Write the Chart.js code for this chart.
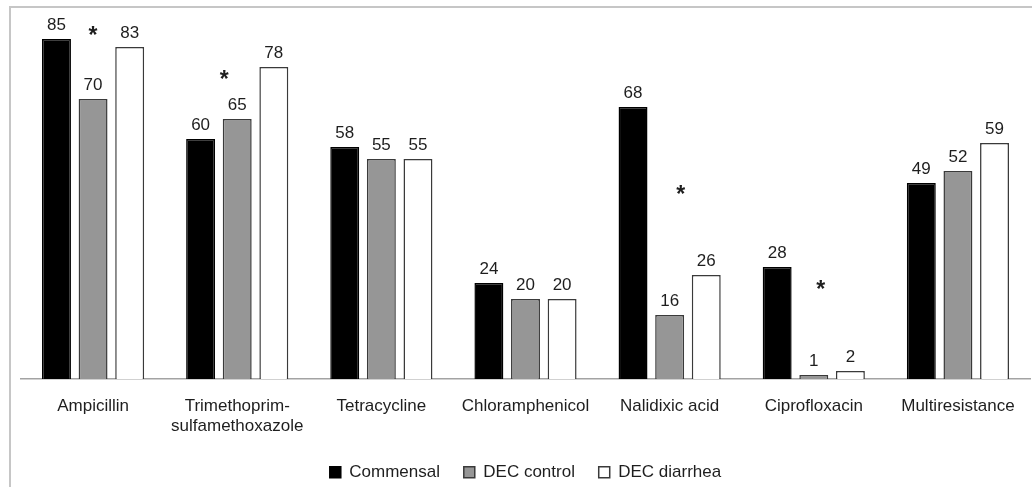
<!DOCTYPE html>
<html lang="en">
<head>
  <meta charset="UTF-8"/>
  <title>Antimicrobial resistance</title>
  <script src="https://cdn.jsdelivr.net/npm/chart.js"></script>
  <style>
    html, body { margin:0; padding:0; background:#fff; overflow:hidden; }
    #wrap { position:relative; width:1032px; height:487px; }
    #frame {
      position:absolute; left:9px; top:6px; right:-10px; bottom:-10px;
      border-top:2px solid #c6c6c6; border-left:2px solid #c6c6c6;
    }
    #chart { position:absolute; left:0; top:0; }
  </style>
</head>
<body>
<div id="wrap">
  <div id="frame"></div>
  <canvas id="chart" width="1032" height="487"></canvas>
</div>

<script>
/* ========== data ========== */
const categories = [
  "Ampicillin", ["Trimethoprim-", "sulfamethoxazole"], "Tetracycline",
  "Chloramphenicol", "Nalidixic acid", "Ciprofloxacin", "Multiresistance"
];
const commensal  = [85, 60, 58, 24, 68, 28, 49];
const decControl = [70, 65, 55, 20, 16, 1, 52];
const decDiarrhea = [83, 78, 55, 20, 26, 2, 59];
// significance marks (*) - height on the value scale, null = none
const starLevels = [87.25, 76.25, null, null, 47.5, 23.75, null];

const FONT = "'Liberation Sans', Arial, sans-serif";
const TEXT = "#1e1e1e";

// value labels above every bar
const valueLabels = {
  id: 'valueLabels',
  afterDatasetsDraw(chart){
    const ctx = chart.ctx;
    ctx.save();
    ctx.font = "17px " + FONT;
    ctx.fillStyle = TEXT;
    ctx.textAlign = "center";
    ctx.textBaseline = "alphabetic";
    chart.data.datasets.forEach((ds, i)=>{
      chart.getDatasetMeta(i).data.forEach((bar, j)=>{
        ctx.fillText(ds.data[j], bar.x, bar.y - 9.5);
      });
    });
    ctx.restore();
  }
};

// asterisks
const starMarks = {
  id: 'starMarks',
  afterDatasetsDraw(chart, args, opts){
    const ctx = chart.ctx;
    const xs = chart.scales.x, ys = chart.scales.y;
    ctx.save();
    ctx.font = "bold 23px " + FONT;
    ctx.fillStyle = TEXT;
    ctx.textAlign = "center";
    ctx.textBaseline = "alphabetic";
    const m = ctx.measureText("*");
    const mid = (m.actualBoundingBoxAscent - m.actualBoundingBoxDescent) / 2;
    starLevels.forEach((v, i)=>{
      if(v === null) return;
      const x = xs.getPixelForValue(i) + (opts.offsets[i] || 0);
      const y = ys.getPixelForValue(v);
      ctx.fillText("*", x, y + mid);
    });
    ctx.restore();
  }
};

new Chart(document.getElementById("chart"), {
  type: 'bar',
  data: {
    labels: categories,
    datasets: [
      { label: 'Commensal',   data: commensal,   backgroundColor: '#000000', borderColor: '#000000', borderWidth: 1.5 },
      { label: 'DEC control', data: decControl,  backgroundColor: '#969696', borderColor: '#3a3a3a', borderWidth: 1.5 },
      { label: 'DEC diarrhea', data: decDiarrhea, backgroundColor: '#ffffff', borderColor: '#3a3a3a', borderWidth: 1.5 }
    ]
  },
  options: {
    responsive: false,
    animation: false,
    events: [],
    layout: { padding: { left: 21, right: 2, top: 19, bottom: 0 } },
    datasets: { bar: { categoryPercentage: 0.762, barPercentage: 0.79 } },
    scales: {
      x: {
        grid: { display: false, drawTicks: false },
        border: { display: true, color: '#a3a3a3', width: 1.5 },
        ticks: { color: TEXT, padding: 17, maxRotation: 0, autoSkip: false,
                 font: { family: FONT, size: 17, lineHeight: 1.2 } },
        afterFit(scale){ scale.height = 61; }
      },
      y: { display: false, min: 0, max: 90 }
    },
    plugins: {
      tooltip: { enabled: false },
      legend: {
        position: 'bottom',
        maxHeight: 47,
        labels: {
          boxWidth: 11, boxHeight: 11, padding: 23.8, color: TEXT,
          font: { family: FONT, size: 17 }
        }
      },
      starMarks: { offsets: [0, -13, 0, 0, 11, 7, 0] }
    }
  },
  plugins: [valueLabels, starMarks]
});
</script>
</body>
</html>
